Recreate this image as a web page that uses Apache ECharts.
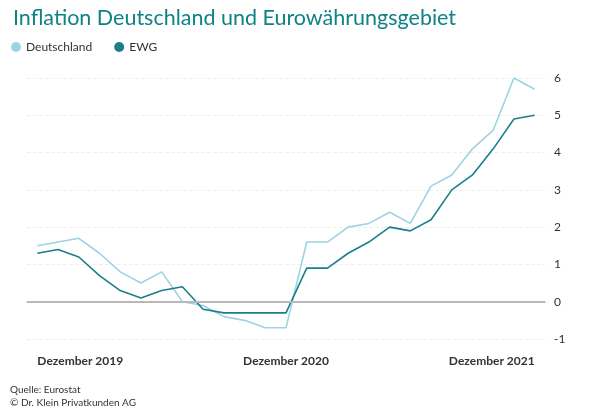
<!DOCTYPE html>
<html><head><meta charset="utf-8">
<script src="https://cdn.jsdelivr.net/npm/echarts@6/dist/echarts.min.js"></script>
<style>html,body{margin:0;padding:0;background:#fff}#c{width:600px;height:411px}</style>
</head><body><div id="c"></div>
<script>
const categories = ['Dez 2019','Jan 2020','Feb 2020','Mär 2020','Apr 2020','Mai 2020','Jun 2020','Jul 2020','Aug 2020','Sep 2020','Okt 2020','Nov 2020','Dez 2020','Jan 2021','Feb 2021','Mär 2021','Apr 2021','Mai 2021','Jun 2021','Jul 2021','Aug 2021','Sep 2021','Okt 2021','Nov 2021','Dez 2021'];
const tickLabels = {0:'Dezember 2019',12:'Dezember 2020',24:'Dezember 2021'};
const deutschland = [1.5,1.6,1.7,1.3,0.8,0.5,0.8,0.0,-0.1,-0.4,-0.5,-0.7,-0.7,1.6,1.6,2.0,2.1,2.4,2.1,3.1,3.4,4.1,4.6,6.0,5.7];
const ewg = [1.3,1.4,1.2,0.7,0.3,0.1,0.3,0.4,-0.2,-0.3,-0.3,-0.3,-0.3,0.9,0.9,1.3,1.6,2.0,1.9,2.2,3.0,3.4,4.1,4.9,5.0];
const FONT = 'Lato';
const chart = echarts.init(document.getElementById('c'), null, {renderer:'canvas'});
const showIdx = (i) => i % 12 === 0;
chart.setOption({
  animation:false,
  textStyle:{fontFamily:FONT},
  title:{text:'Inflation Deutschland und Eurowährungsgebiet',left:8,top:2,
    textStyle:{fontFamily:FONT,fontSize:21.5,fontWeight:'normal',color:'#0f8285'}},
  legend:{left:6,top:36,itemWidth:10,itemHeight:10,itemGap:22,icon:'circle',
    textStyle:{fontFamily:FONT,fontSize:12,color:'#333'},
    data:['Deutschland','EWG']},
  graphic:[
    {type:'text',left:10,top:385,style:{text:'Quelle: Eurostat',font:'10px '+FONT,fill:'#333'}},
    {type:'text',left:10,top:398,style:{text:'© Dr. Klein Privatkunden AG',font:'10px '+FONT,fill:'#333'}}
  ],
  grid:{left:27,right:55,top:78,bottom:72},
  xAxis:{type:'category',data:categories,boundaryGap:true,
    axisLine:{lineStyle:{color:'#b5b5b5',width:1.5}},
    axisTick:{alignWithLabel:true,interval:showIdx,length:6,lineStyle:{color:'#b5b5b5'}},
    axisLabel:{interval:showIdx,formatter:(v,i)=>tickLabels[i]||'',margin:16,
      fontFamily:FONT,fontSize:12,fontWeight:'bold',color:'#333',
      alignMinLabel:'left',alignMaxLabel:'right'}},
  yAxis:{type:'value',position:'right',min:-1,max:6,interval:1,
    axisLine:{show:false},axisTick:{show:false},
    axisLabel:{margin:9,fontFamily:FONT,fontSize:12,color:'#333'},
    splitLine:{lineStyle:{color:'#efefef',type:'dashed',width:1}}},
  series:[
    {name:'Deutschland',type:'line',data:deutschland,symbol:'none',color:'#9dd3e4',
      lineStyle:{width:1.6,color:'#9dd3e4'},
      markLine:{silent:true,symbol:'none',label:{show:false},
        lineStyle:{color:'#b8b8b8',type:'solid',width:2},data:[{yAxis:0}]}},
    {name:'EWG',type:'line',data:ewg,symbol:'none',color:'#1a7f88',
      lineStyle:{width:1.6,color:'#1a7f88'}}
  ]
});
</script></body></html>
